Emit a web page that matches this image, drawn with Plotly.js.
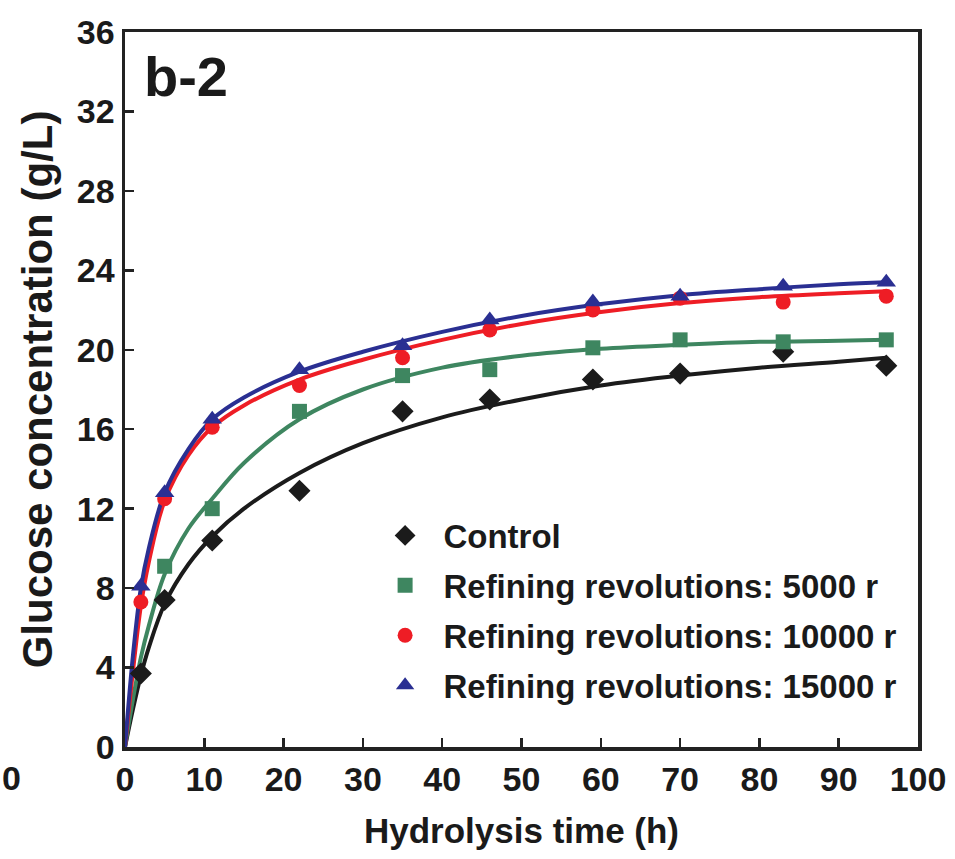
<!DOCTYPE html>
<html>
<head>
<meta charset="utf-8">
<script src="https://cdn.plot.ly/plotly-3.0.1.min.js"></script>
<style>html,body{margin:0;padding:0;background:#fff;}#chart{width:955px;height:859px;}</style>
</head>
<body>
<div id="chart"></div>
<script>
// Measured sampling times (h)
var timePoints = [2, 5, 11, 22, 35, 46, 59, 70, 83, 96];
var timePointsGreen = [5, 11, 22, 35, 46, 59, 70, 83, 96];

// Measured glucose concentrations (g/L)
var controlValues = [3.7, 7.4, 10.4, 12.9, 16.9, 17.5, 18.5, 18.8, 19.9, 19.2];
var rev5000Values = [9.1, 12.0, 16.9, 18.7, 19.0, 20.1, 20.5, 20.4, 20.5];
var rev10000Values = [7.3, 12.5, 16.1, 18.2, 19.6, 21.0, 22.0, 22.6, 22.4, 22.7];
var rev15000Values = [8.1, 12.8, 16.5, 19.0, 20.2, 21.5, 22.4, 22.7, 23.2, 23.4];

// Fitted curves
var curveTimes = [0, 1, 2, 3, 5, 8, 11, 15, 22, 30, 40, 50, 60, 70, 80, 90, 96];
var controlCurve = [0, 1.9, 3.6, 5.0, 7.2, 9.2, 10.6, 12.0, 13.8, 15.3, 16.6, 17.5, 18.2, 18.7, 19.1, 19.4, 19.6];
var rev5000Curve = [0, 2.4, 4.5, 6.1, 8.7, 11.0, 12.5, 14.3, 16.5, 18.0, 19.1, 19.7, 20.05, 20.25, 20.4, 20.45, 20.5];
var rev10000Curve = [0, 3.8, 7.1, 9.3, 12.4, 14.7, 16.1, 17.2, 18.5, 19.5, 20.5, 21.3, 21.9, 22.35, 22.65, 22.85, 22.95];
var rev15000Curve = [0, 4.6, 8.0, 10.0, 12.8, 15.0, 16.5, 17.6, 18.9, 19.9, 20.9, 21.7, 22.3, 22.75, 23.05, 23.3, 23.4];

var seriesNames = ["Control", "Refining revolutions: 5000 r", "Refining revolutions: 10000 r", "Refining revolutions: 15000 r"];
var xTickLabels = ["0","10","20","30","40","50","60","70","80","90","100"];
var yTickLabels = ["0","4","8","12","16","20","24","28","32","36"];

var colors = ["#1b1b1b", "#3e8660", "#ee1d25", "#2a2f92"];
var symbols = ["diamond", "square", "circle", "triangle-up"];
var sizes = [17, 15, 15, 17];

var xs = [timePoints, timePointsGreen, timePoints, timePoints];
var ys = [controlValues, rev5000Values, rev10000Values, rev15000Values];
var curves = [controlCurve, rev5000Curve, rev10000Curve, rev15000Curve];

var font = "Liberation Sans, Arial, sans-serif";

var traces = [];
for (var i = 0; i < 4; i++) {
  traces.push({
    x: curveTimes, y: curves[i], mode: "lines", type: "scatter",
    line: {color: colors[i], width: 4, shape: "spline", smoothing: 1},
    showlegend: false, hoverinfo: "skip"
  });
}
for (var j = 0; j < 4; j++) {
  traces.push({
    x: xs[j], y: ys[j], mode: "markers", type: "scatter",
    name: "\u00a0\u00a0" + seriesNames[j],
    legendgroup: "g" + j,
    marker: {color: colors[j], symbol: symbols[j], size: sizes[j]}
  });
}

var tickVals = xTickLabels.map(Number);
var yTickVals = yTickLabels.map(Number);

var layout = {
  width: 955, height: 859,
  margin: {l: 125, r: 37, t: 32, b: 112},
  paper_bgcolor: "#fff", plot_bgcolor: "#fff",
  showlegend: true,
  legend: {
    x: 0.328, y: 0.335, xanchor: "left", yanchor: "top",
    bgcolor: "rgba(0,0,0,0)", borderwidth: 0,
    font: {family: font, size: 33, color: "#1a1a1a", weight: "bold"},
    traceorder: "grouped", tracegroupgap: 4
  },
  xaxis: {
    range: [0, 100], tickmode: "array", tickvals: tickVals, ticktext: xTickLabels,
    ticks: "inside", ticklen: 9, tickwidth: 2.5, tickcolor: "#222",
    showline: true, linecolor: "#222", linewidth: 3.5, mirror: true,
    showgrid: false, zeroline: false,
    tickfont: {family: font, size: 34, color: "#1a1a1a", weight: "bold"},
    title: {text: "Hydrolysis time (h)", font: {family: font, size: 35, color: "#1a1a1a", weight: "bold"}, standoff: 22}
  },
  yaxis: {
    range: [0, 36], tickmode: "array", tickvals: yTickVals, ticktext: yTickLabels,
    ticks: "inside", ticklen: 9, tickwidth: 2.5, tickcolor: "#222",
    showline: true, linecolor: "#222", linewidth: 3.5, mirror: true,
    showgrid: false, zeroline: false,
    tickfont: {family: font, size: 34, color: "#1a1a1a", weight: "bold"},
    title: {text: "Glucose concentration (g/L)", font: {family: font, size: 42, color: "#1a1a1a", weight: "bold"}, standoff: 12}
  },
  annotations: [
    {text: "b-2", xref: "paper", yref: "paper", x: 0.022, y: 0.985, xanchor: "left", yanchor: "top",
     showarrow: false, font: {family: font, size: 56, color: "#1a1a1a", weight: "bold"}},
    {text: "0", xref: "paper", yref: "paper", x: -0.158, y: -0.044, xanchor: "left", yanchor: "middle",
     showarrow: false, font: {family: font, size: 34, color: "#1a1a1a", weight: "bold"}}
  ]
};

Plotly.newPlot("chart", traces, layout, {displayModeBar: false, staticPlot: true});
</script>
</body>
</html>
